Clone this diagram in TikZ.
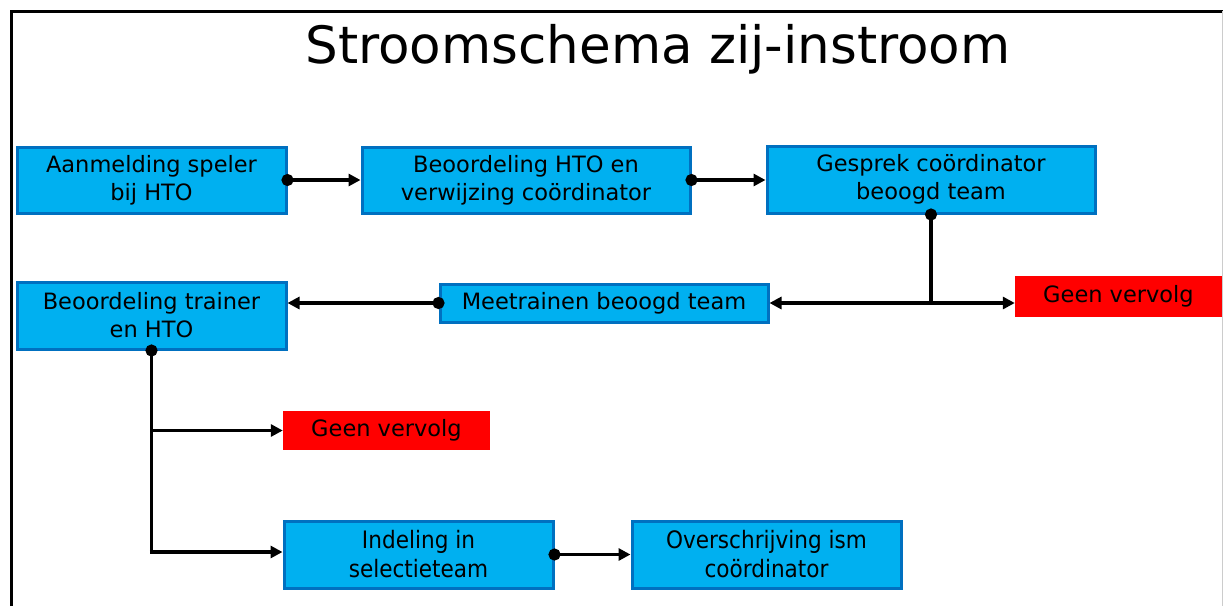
\documentclass[tikz,border=0pt]{standalone}
\usepackage{fontspec}
\setmainfont{DejaVu Sans}
\newfontfamily\smalfont[FakeStretch=0.9]{DejaVu Sans}
\usepackage{xcolor}
\usepackage{tikz}
\usetikzlibrary{arrows.meta,calc}

\definecolor{blokblauw}{HTML}{00B0F0}
\definecolor{randblauw}{HTML}{0070C0}
\definecolor{stoprood}{HTML}{FF0000}

\begin{document}
\begin{tikzpicture}[x=1pt,y=-1pt,
	blok/.style={draw=randblauw,fill=blokblauw,line width=3pt,align=center,inner sep=0pt,
		font=\fontsize{22.5}{28}\selectfont},
	smalblok/.style={blok,font=\smalfont\fontsize{24}{29}\selectfont},
	stopblok/.style={fill=stoprood,align=center,inner sep=0pt,minimum width=207pt,
		font=\fontsize{22.5}{28}\selectfont},
	lijn/.style={line width=3.5pt},
	pijl/.style={lijn,-{Triangle[length=12pt,width=12pt]}},
	stip/.style={lijn,{Circle[length=12pt]}-,shorten <=-6pt},
	verbinding/.style={lijn,{Circle[length=12pt]}-{Triangle[length=12pt,width=12pt]},shorten <=-6pt}]
				\useasboundingbox (0,0) rectangle (1223,606);
				\fill[white] (0,0) rectangle (1223,606);
				\draw[line width=3pt] (11,606) -- (11,11) -- (1223,11);
				\draw[gray!40,thin] (1222,11) -- (1222,606);
				\node[font=\fontsize{51.5}{60}\selectfont] (titel) at (658,49) {Stroomschema zij-instroom};
				% bovenste rij
				\node[blok,minimum width=269pt,minimum height=66pt] (aanmelding) at (151.5,180) {Aanmelding speler\\bij HTO};
				\node[blok,minimum width=328pt,minimum height=66pt] (beoordelingHTO) at (526,180) {Beoordeling HTO en\\verwijzing coördinator};
				\node[blok,minimum width=328pt,minimum height=67pt] (gesprek) at (931,179.5) {Gesprek coördinator\\beoogd team};
				% middelste rij
				\node[blok,minimum width=269pt,minimum height=67pt] (beoordelingtrainer) at (151.5,315.5) {Beoordeling trainer\\en HTO};
				\node[blok,minimum width=328pt,minimum height=38pt] (meetrainen) at (604,303) {Meetrainen beoogd team};
				\node[stopblok,minimum height=41pt] (geenA) at (1118.5,296.5) {Geen vervolg};
				\node[stopblok,minimum height=39pt] (geenB) at (386.5,430.5) {Geen vervolg};
				% onderste rij
				\node[smalblok,minimum width=269pt,minimum height=67pt] (indeling) at (418.5,554.5) {Indeling in\\selectieteam};
				\node[smalblok,minimum width=269pt,minimum height=67pt] (overschrijving) at (766.5,554.5) {Overschrijving ism\\coördinator};
				% verbindingen
				\draw[verbinding] (aanmelding.east) -- (aanmelding.east -| beoordelingHTO.west);
				\draw[verbinding] (beoordelingHTO.east) -- (beoordelingHTO.east -| gesprek.west);
				\draw[stip] (gesprek.south) -- (gesprek.south |- meetrainen.east) coordinate (splits);
				\draw[pijl] ([xshift=1.75pt]splits) -- (meetrainen.east);
				\draw[pijl] ([xshift=-1.75pt]splits) -- (splits -| geenA.west);
				\draw[verbinding] (meetrainen.west) -- (meetrainen.west -| beoordelingtrainer.east);
				\draw[stip] (beoordelingtrainer.south) -- (beoordelingtrainer.south |- 0,552) coordinate (hoek);
				\draw[pijl] (beoordelingtrainer.south |- geenB.west) -- (geenB.west);
				\draw[pijl] ([xshift=-1.75pt]hoek) -- (hoek -| indeling.west);
				\draw[verbinding] (indeling.east) -- (overschrijving.west);
				\end{tikzpicture}
\end{document}
